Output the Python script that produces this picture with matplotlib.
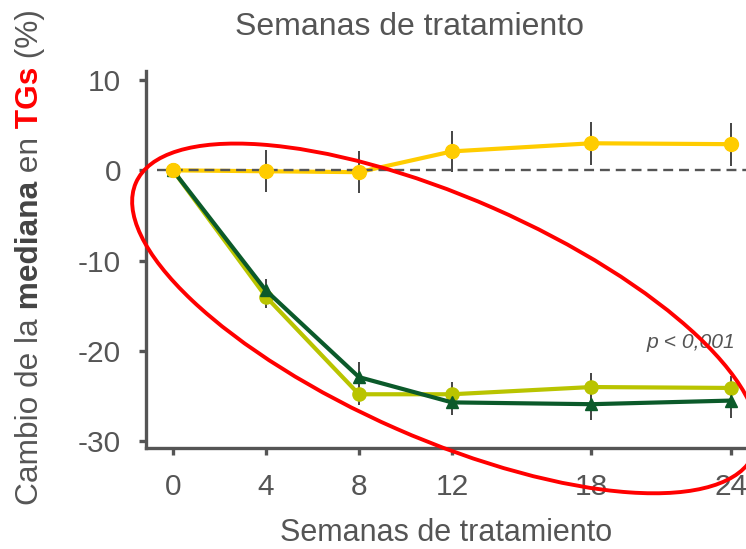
import numpy as np
import matplotlib
matplotlib.use('Agg')
import matplotlib.pyplot as plt
from matplotlib.patches import Ellipse
from matplotlib.transforms import ScaledTranslation

# --- DATOS ---
semanas = [0, 4, 8, 12, 18, 24]

amarillo = [0.0, -0.1, -0.2, 2.1, 3.0, 2.9]
amarillo_err = [0.0, 2.3, 2.3, 2.3, 2.4, 2.4]

oliva = [0.0, -14.0, -24.8, -24.8, -24.0, -24.1]
oliva_err = [0.0, 1.2, 1.2, 1.4, 1.5, 1.3]

verde = [0.0, -13.3, -22.9, -25.7, -25.9, -25.5]
verde_err = [0.0, 1.3, 1.7, 1.4, 1.8, 1.9]

C_AMARILLO = '#FFCC00'
C_OLIVA = '#B9C400'
C_VERDE = '#0B5A2A'
C_GRIS = '#555555'
C_ERR = '#444444'

plt.rcParams['font.family'] = ['Liberation Sans', 'DejaVu Sans']

fig = plt.figure(figsize=(7.46, 5.49), dpi=100)
ax = fig.add_axes([0.1957, 0.1840, 0.8043, 0.6866])

# linea de referencia en 0
ax.axhline(0, xmin=0.018, color=C_GRIS, lw=1.7, ls=(0, (4.2, 2.5)), zorder=4)

# barras de error
for y, e in [(oliva, oliva_err), (verde, verde_err), (amarillo, amarillo_err)]:
    ax.errorbar(semanas, y, yerr=e, fmt='none', ecolor=C_ERR,
                elinewidth=1.4, capsize=0, zorder=2)

# series
ax.plot(semanas, oliva, color=C_OLIVA, lw=3, marker='o', ms=9.5, zorder=3)
ax.plot(semanas, verde, color=C_VERDE, lw=3, marker='^', ms=8.5, zorder=3.5)
ax.plot(semanas, amarillo, color=C_AMARILLO, lw=3, zorder=3)
ax.plot(semanas, amarillo, color=C_AMARILLO, lw=0, marker='o', ms=10, zorder=5)

ax.set_xlim(-1.16, 24.65)
ax.set_ylim(-30.75, 11)
ax.set_xticks(semanas)
ax.set_yticks([10, 0, -10, -20, -30])
ax.set_yticklabels(['10', '0', '-10', '-20', '-30'])

for s in ['top', 'right']:
    ax.spines[s].set_visible(False)
for s in ['left', 'bottom']:
    ax.spines[s].set_color(C_GRIS)
    ax.spines[s].set_linewidth(2.4)
ax.tick_params(axis='both', colors=C_GRIS, labelsize=21.5, width=2.4, length=5,
               labelcolor=C_GRIS)
ax.tick_params(axis='x', pad=13)
ax.tick_params(axis='y', pad=13)

ax.set_xlabel('Semanas de tratamiento', fontsize=22, color=C_GRIS, labelpad=12)
ax.set_title('Semanas de tratamiento', fontsize=23, color=C_GRIS, pad=26,
             x=0.44)

ax.text(24.2, -19.1, 'p < 0,001', fontsize=15.2, style='italic', color=C_GRIS,
        ha='right', va='center')

# ovalo rojo (en pulgadas, centrado en coordenadas de datos)
tr = fig.dpi_scale_trans + ScaledTranslation(11.7, -16.4, ax.transData)
ovalo = Ellipse((0, 0), width=6.75, height=2.41, angle=-23.7, fill=False,
                edgecolor='#FF0000', lw=2.8, transform=tr, clip_on=False,
                zorder=6)
ax.add_patch(ovalo)

# etiqueta del eje y en varias partes
partes = [('Cambio de la', 'normal', C_GRIS),
          (' mediana', 'bold', '#444444'),
          (' en', 'normal', C_GRIS),
          (' TGs', 'bold', '#FF0000'),
          (' (%)', 'normal', C_GRIS)]
TAM_Y = 22.8
prev = fig.text(30 / 746, 1 - 505 / 549, partes[0][0], rotation=90,
                ha='center', va='bottom', fontsize=TAM_Y, color=partes[0][2])
for txt, peso, col in partes[1:]:
    prev = ax.annotate(txt, xy=(0.5, 1.0), xycoords=prev, rotation=90,
                       ha='center', va='bottom', fontsize=TAM_Y,
                       fontweight=peso, color=col, annotation_clip=False)

fig.savefig('out.png', dpi=100)
